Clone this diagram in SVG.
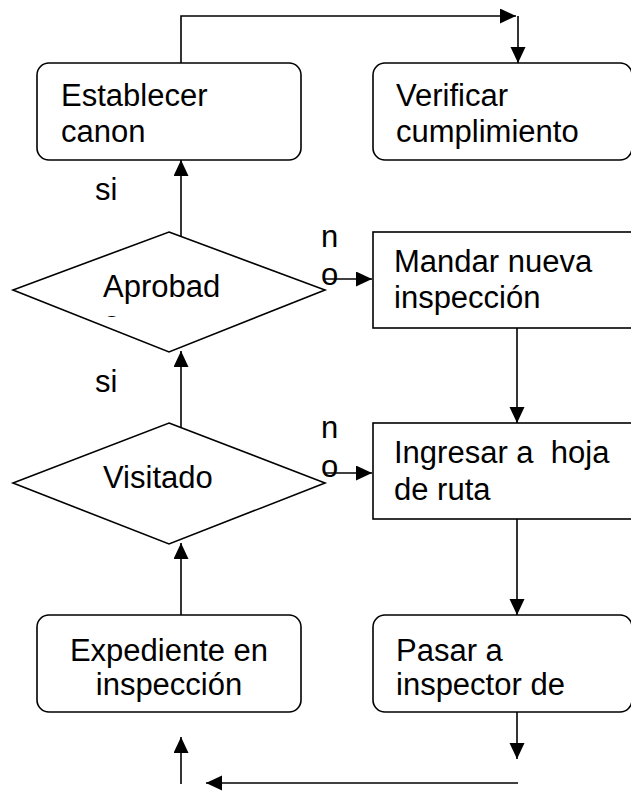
<svg xmlns="http://www.w3.org/2000/svg" width="631" height="793" viewBox="0 0 631 793">
<style>
.box{fill:#fff;stroke:#000;stroke-width:1.6}
.t{font-family:"Liberation Sans",Arial,sans-serif;font-size:31px;fill:#000}
.c{fill:none;stroke:#000;stroke-width:1.6}
</style>
<defs>
<marker id="ah" markerUnits="userSpaceOnUse" markerWidth="16" markerHeight="16" refX="16" refY="7.5" orient="auto">
<path d="M0,0 L16,7.5 L0,15 z" fill="#000"/>
</marker>
<clipPath id="clipA"><rect x="0" y="0" width="631" height="317"/></clipPath>
</defs>
<rect width="631" height="793" fill="#fff"/>
<g id="connectors">
<path class="c" d="M181,63 V16 H516" marker-end="url(#ah)"/>
<path class="c" d="M518,16 V63" marker-end="url(#ah)"/>
<path class="c" d="M181,236 V160" marker-end="url(#ah)"/>
<path class="c" d="M325,279 H372" marker-end="url(#ah)"/>
<path class="c" d="M517,328 V423" marker-end="url(#ah)"/>
<path class="c" d="M181,427 V351" marker-end="url(#ah)"/>
<path class="c" d="M325,473 H372" marker-end="url(#ah)"/>
<path class="c" d="M517,519 V615" marker-end="url(#ah)"/>
<path class="c" d="M181,615 V543" marker-end="url(#ah)"/>
<path class="c" d="M517,712 V759" marker-end="url(#ah)"/>
<path class="c" d="M518,783 H206" marker-end="url(#ah)"/>
<path class="c" d="M181,784 V737" marker-end="url(#ah)"/>
<text class="t" x="321" y="247">n</text>
<text class="t" x="321" y="285">o</text>
<text class="t" x="321" y="438">n</text>
<text class="t" x="321" y="477">o</text>
<text class="t" x="95" y="200">si</text>
<text class="t" x="95" y="392">si</text>
</g>
<g id="establecer">
<rect class="box" x="37" y="63" width="264" height="97" rx="12"/>
<text class="t" x="61" y="106">Establecer</text>
<text class="t" x="61" y="142">canon</text>
</g>
<g id="verificar">
<rect class="box" x="373" y="63" width="259" height="97" rx="12"/>
<text class="t" x="396" y="106">Verificar</text>
<text class="t" x="396" y="142">cumplimiento</text>
</g>
<g id="aprobado">
<polygon class="box" points="169,232 325,290 169,352 13,290"/>
<text class="t" x="103" y="297">Aprobad</text>
<text class="t" x="103" y="333" clip-path="url(#clipA)">o</text>
</g>
<g id="mandar">
<rect class="box" x="373" y="232" width="270" height="96"/>
<text class="t" x="394" y="272">Mandar nueva</text>
<text class="t" x="394" y="308">inspección</text>
</g>
<g id="visitado">
<polygon class="box" points="169,423 325,483 169,544 13,483"/>
<text class="t" x="103" y="488">Visitado</text>
</g>
<g id="ingresar">
<rect class="box" x="373" y="423" width="270" height="96"/>
<text class="t" x="394" y="463" xml:space="preserve">Ingresar a  hoja</text>
<text class="t" x="394" y="500">de ruta</text>
</g>
<g id="expediente">
<rect class="box" x="37" y="615" width="264" height="97" rx="12"/>
<text class="t" x="169" y="661" text-anchor="middle">Expediente en</text>
<text class="t" x="169" y="695" text-anchor="middle">inspección</text>
</g>
<g id="pasar">
<rect class="box" x="373" y="615" width="259" height="97" rx="12"/>
<text class="t" x="396" y="661">Pasar a</text>
<text class="t" x="396" y="695">inspector de</text>
</g>
</svg>
